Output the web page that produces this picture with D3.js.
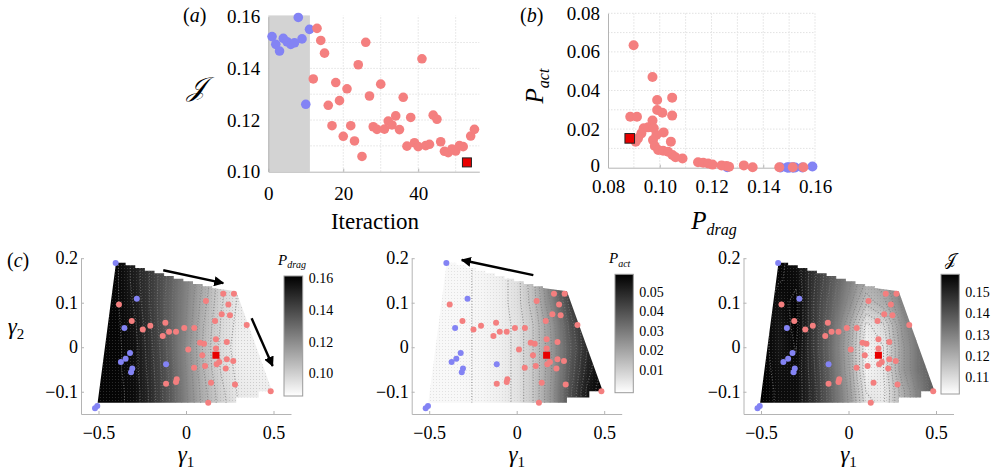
<!DOCTYPE html>
<html><head><meta charset="utf-8">
<script src="https://cdn.jsdelivr.net/npm/d3@7"></script>
<style>
body{margin:0;background:#fff;}
svg text{font-family:"Liberation Serif","Times New Roman","Liberation Sans",Arial,sans-serif;fill:#000;}
</style></head><body>
<svg id="c" width="1002" height="476" xmlns="http://www.w3.org/2000/svg"></svg>
<script>
// ---------------- DATA ----------------
// (a) objective J vs iteration
const iterBlue = [1,2,3,4,5,6,7,8,9,10,11];
const jBlue = [0.1523,0.1493,0.1467,0.1516,0.1503,0.1493,0.1499,0.1597,0.1514,0.1261,0.1551];
const iterRed = [12,13,14,15,16,17,18,19,20,21,22,23,24,25,26,27,28,29,30,31,32,33,34,35,36,37,38,39,40,41,42,43,44,45,46,47,48,49,50,51,52,54,55];
const jRed = [0.1359,0.1555,0.1508,0.1459,0.1257,0.1178,0.1345,0.1275,0.1137,0.1321,0.1178,0.1119,0.1414,0.1059,0.1501,0.1293,0.1174,0.1164,0.1339,0.1165,0.1196,0.1181,0.1216,0.1163,0.1288,0.1099,0.1210,0.1112,0.1097,0.1437,0.1101,0.1106,0.1219,0.1203,0.1116,0.1079,0.1074,0.1088,0.1080,0.1101,0.1097,0.1138,0.1164];
const bestIter = 53, bestJ = 0.1036;
// (b) P_act vs P_drag
const pdragRed = [0.0899,0.0886,0.0912,0.0972,0.0990,0.0990,0.1010,0.1048,0.1048,0.1043,0.0972,0.0955,0.0938,0.0929,0.0916,0.0907,0.0977,0.0987,0.1015,0.0974,0.0981,0.0994,0.1013,0.1032,0.1049,0.1061,0.1088,0.1148,0.1168,0.1187,0.1204,0.1239,0.1258,0.1268,0.1325,0.1359,0.1462,0.1514,0.1555];
const pactRed  = [0.0634,0.0264,0.0264,0.0470,0.0351,0.0299,0.0285,0.0363,0.0270,0.0135,0.0244,0.0209,0.0204,0.0178,0.0152,0.0135,0.0204,0.0169,0.0183,0.0143,0.0112,0.0092,0.0088,0.0083,0.0066,0.0054,0.0048,0.0028,0.0026,0.0022,0.0016,0.0012,0.0009,0.0005,0.0012,0.0002,0.0002,0.0002,0.0002];
const pdragBlue = [0.1523,0.1493,0.1467,0.1516,0.1503,0.1493,0.1499,0.1590,0.1514,0.1261,0.1551];
const pactBlue  = [0.0001,0.0001,0.0001,0.0001,0.0001,0.0001,0.0001,0.0006,0.0001,0.0002,0.0001];
const bestPdrag = 0.0884, bestPact = 0.0152;
// (c) sampled parameters
const g1Blue = [-0.402,-0.281,-0.352,-0.320,-0.345,-0.372,-0.307,-0.314,-0.114,-0.507,-0.520];
const g2Blue = [0.189,0.109,0.043,-0.013,-0.026,-0.033,-0.048,-0.056,-0.038,-0.132,-0.137];
const g1Red = [-0.383,-0.310,-0.247,-0.204,-0.118,-0.133,-0.097,-0.057,-0.010,0.047,0.013,0.080,0.103,0.046,0.109,0.093,0.171,0.171,0.233,0.114,0.213,0.274,0.242,0.204,0.251,0.166,0.347,0.190,0.233,0.270,0.227,0.175,-0.053,-0.057,-0.114,0.143,0.280,0.127,0.484];
const g2Red = [0.096,0.059,0.040,0.048,0.055,0.025,0.035,0.035,0.043,0.043,-0.005,0.010,0.008,-0.046,-0.042,-0.018,0.018,-0.003,0.012,0.104,0.120,0.120,0.096,0.074,0.072,0.059,0.050,-0.033,-0.027,-0.031,-0.048,-0.038,-0.072,-0.078,-0.082,-0.080,-0.084,-0.125,-0.099];
const bestG1 = 0.171, bestG2 = -0.018;
// model-surface grids (rows: gamma2 = 0.2 ... -0.15, cols: gamma1 = -0.5 ... 0.5)
const gridG1 = [-0.5,-0.4,-0.3,-0.2,-0.1,0,0.1,0.2,0.3,0.4,0.5];
const gridG2 = [0.2,0.15,0.1,0.05,0,-0.05,-0.1,-0.15];
const gridPdrag = [
 [.160,.160,.153,.144,.135,.125,.113,.101,.094,.092,.092],
 [.160,.160,.153,.144,.134,.123,.111,.099,.093,.091,.091],
 [.160,.160,.154,.144,.133,.122,.109,.098,.092,.090,.090],
 [.160,.160,.156,.145,.133,.121,.107,.097,.091,.090,.090],
 [.160,.160,.157,.146,.134,.120,.106,.096,.090,.090,.090],
 [.160,.160,.157,.147,.135,.121,.107,.097,.091,.090,.090],
 [.160,.160,.158,.148,.136,.122,.109,.099,.092,.091,.091],
 [.160,.160,.158,.148,.136,.123,.110,.100,.093,.092,.092]];
const gridPact = [
 [0,0,0,.0005,.002,.006,.015,.031,.046,.055,.059],
 [0,0,0,.0005,.002,.006,.015,.031,.046,.055,.059],
 [0,0,0,.0005,.002,.006,.014,.028,.043,.053,.058],
 [0,0,0,.0005,.002,.005,.012,.024,.039,.050,.057],
 [0,0,0,.0005,.002,.005,.012,.023,.037,.049,.057],
 [0,0,0,.0005,.002,.005,.012,.023,.038,.051,.059],
 [0,0,0,.0005,.002,.005,.012,.024,.040,.054,.060],
 [0,0,0,.0005,.002,.005,.012,.024,.040,.054,.060]];
const gridJ = [
 [.159,.158,.155,.148,.140,.132,.124,.125,.132,.137,.139],
 [.159,.157,.156,.147,.139,.130,.121,.123,.131,.137,.139],
 [.159,.155,.158,.146,.137,.127,.115,.120,.129,.136,.139],
 [.159,.154,.158,.146,.135,.122,.106,.110,.125,.134,.138],
 [.159,.154,.157,.146,.134,.121,.104,.107,.123,.133,.138],
 [.159,.155,.156,.147,.135,.122,.104,.107,.123,.133,.139],
 [.159,.156,.156,.148,.136,.124,.107,.106,.119,.130,.140],
 [.159,.156,.156,.148,.137,.125,.110,.107,.119,.130,.140]];
// sampled domain boundary (gamma1, gamma2)
const domainPoly = [[-0.505,-0.125],[-0.40,0.19],[-0.345,0.19],[-0.345,0.184],[-0.29,0.184],[-0.29,0.178],[-0.235,0.178],[-0.235,0.172],[-0.18,0.172],[-0.18,0.166],[-0.125,0.166],[-0.125,0.160],[-0.07,0.160],[-0.07,0.154],[-0.015,0.154],[-0.015,0.148],[0.04,0.148],[0.04,0.142],[0.095,0.142],[0.095,0.137],[0.15,0.137],[0.15,0.133],[0.287,0.126],[0.487,-0.093],[0.487,-0.099],[0.415,-0.099],[0.415,-0.113],[0.287,-0.113],[0.287,-0.125]];
// colorbar ranges and ticks
const cbDomains = [[0.0857,0.1615],[-0.0016,0.059],[0.1018,0.1586]];
const cbTicks = [[0.10,0.12,0.14,0.16],[0.01,0.02,0.03,0.04,0.05],[0.11,0.12,0.13,0.14,0.15]];
// arrows (gamma coords)
const arrowsLeft = [[[-0.13,0.173],[0.213,0.144]],[[0.375,0.065],[0.495,-0.042]]];
const arrowsMid = [[[0.095,0.162],[-0.314,0.196]]];

// ---------------- DRAW ----------------
const RED="#f47f7f", BLUE="#8383f4", SQ="#e80000";
const FONT='"Liberation Serif","Times New Roman","Liberation Sans",Arial,sans-serif';
const svg = d3.select("#c");
const defs = svg.append("defs");
defs.append("marker").attr("id","ah").attr("viewBox","0 0 10 10").attr("refX",9).attr("refY",5)
  .attr("markerWidth",4.2).attr("markerHeight",4.2).attr("orient","auto")
  .append("path").attr("d","M0,0L10,5L0,10z").attr("fill","#000");
const pat = defs.append("pattern").attr("id","dots").attr("patternUnits","userSpaceOnUse").attr("width",3).attr("height",3);
pat.append("rect").attr("x",1).attr("y",1).attr("width",1).attr("height",1).attr("fill","#808080");

function styleAxis(g, fs){
  g.attr("font-family",FONT).attr("font-size",fs);
  g.select(".domain").attr("stroke","#b4b4b4");
  g.selectAll(".tick line").attr("stroke","#b4b4b4");
  g.selectAll("text").attr("fill","#000");
}
function subLabel(g, x, y, main, sub, fs, sfs, opts={}){
  const t = g.append("text").attr("x",x).attr("y",y).attr("text-anchor",opts.anchor||"start");
  if(opts.rotate) t.attr("transform",`rotate(-90,${x},${y})`);
  t.append("tspan").attr("font-style","italic").attr("font-size",fs).text(main);
  t.append("tspan").attr("font-style",opts.subItalic===false?"normal":"italic").attr("font-size",sfs).attr("dy",fs*0.22).text(sub);
  return t;
}

// ===== (a) =====
const ax = d3.scaleLinear().domain([0,56.3]).range([268.3,479.3]);
const ay = d3.scaleLinear().domain([0.10,0.16]).range([171.7,16.7]);
const ga = svg.append("g");
const gridA = ga.append("g").attr("stroke","#e2e2e2").attr("stroke-dasharray","1.5,1.5");
d3.range(10,56,10).forEach(v=>gridA.append("line").attr("x1",ax(v)).attr("x2",ax(v)).attr("y1",ay(0.1)).attr("y2",ay(0.1605)));
d3.range(0.11,0.16,0.01).forEach(v=>gridA.append("line").attr("x1",ax(0)).attr("x2",ax(56.3)).attr("y1",ay(v)).attr("y2",ay(v)));
ga.append("rect").attr("x",ax(0)).attr("y",ay(0.1605)).attr("width",ax(11.1)-ax(0)).attr("height",ay(0.1)-ay(0.1605)).attr("fill","#d3d3d3");
styleAxis(ga.append("g").attr("transform",`translate(0,${ay(0.1)})`).call(d3.axisBottom(ax).tickValues([0,20,40]).tickSize(-3).tickPadding(15).tickSizeOuter(0)),19);
styleAxis(ga.append("g").attr("transform",`translate(${ax(0)},0)`).call(d3.axisLeft(ay).tickValues([0.10,0.12,0.14,0.16]).tickFormat(d3.format(".2f")).tickSize(0).tickPadding(8).tickSizeOuter(0)),19);
ga.selectAll("circle.b").data(iterBlue).join("circle").attr("cx",(d)=>ax(d)).attr("cy",(d,i)=>ay(jBlue[i])).attr("r",4.8).attr("fill",BLUE);
ga.selectAll("circle.r").data(iterRed).join("circle").attr("cx",(d)=>ax(d)).attr("cy",(d,i)=>ay(jRed[i])).attr("r",4.8).attr("fill",RED);
ga.append("rect").attr("x",ax(bestIter)-4.5).attr("y",ay(bestJ)-4.5).attr("width",9).attr("height",9).attr("fill",SQ).attr("stroke","#222").attr("stroke-width",1);
ga.append("text").attr("x",183).attr("y",22).attr("font-size",20).html('(<tspan font-style="italic">a</tspan>)');
ga.append("text").attr("x",196).attr("y",96).attr("font-size",27).attr("text-anchor","middle").attr("font-style","italic").text("𝒥");
ga.append("text").attr("x",375).attr("y",229).attr("font-size",23).attr("text-anchor","middle").text("Iteraction");

// ===== (b) =====
const bx = d3.scaleLinear().domain([0.08,0.16]).range([608,815]);
const by = d3.scaleLinear().domain([0,0.08]).range([167.7,13.3]);
const gb = svg.append("g");
const gridB = gb.append("g").attr("stroke","#e2e2e2").attr("stroke-dasharray","1.5,1.5");
d3.range(0.09,0.16,0.01).forEach(v=>gridB.append("line").attr("x1",bx(v)).attr("x2",bx(v)).attr("y1",by(0)).attr("y2",by(0.08)));
d3.range(0.01,0.081,0.01).forEach(v=>gridB.append("line").attr("x1",bx(0.08)).attr("x2",bx(0.16)).attr("y1",by(v)).attr("y2",by(v)));
styleAxis(gb.append("g").attr("transform",`translate(0,${by(0)})`).call(d3.axisBottom(bx).tickValues([0.08,0.10,0.12,0.14,0.16]).tickFormat(d3.format(".2f")).tickSize(-3).tickPadding(12).tickSizeOuter(0)),19);
const bya = gb.append("g").attr("transform",`translate(${bx(0.08)},0)`).call(d3.axisLeft(by).tickValues([0,0.02,0.04,0.06,0.08]).tickFormat(d=>d===0?"0":d3.format(".2f")(d)).tickSize(0).tickPadding(8).tickSizeOuter(0));
styleAxis(bya,19);
bya.selectAll(".tick text").filter(d=>d===0).attr("dy","0.2em");
gb.selectAll("circle.b").data(pdragBlue).join("circle").attr("cx",d=>bx(d)).attr("cy",(d,i)=>by(pactBlue[i])).attr("r",5).attr("fill",BLUE);
gb.selectAll("circle.r").data(pdragRed).join("circle").attr("cx",d=>bx(d)).attr("cy",(d,i)=>by(pactRed[i])).attr("r",5).attr("fill",RED);
gb.append("rect").attr("x",bx(bestPdrag)-4.8).attr("y",by(bestPact)-4.8).attr("width",9.6).attr("height",9.6).attr("fill",SQ).attr("stroke","#222").attr("stroke-width",1);
gb.append("text").attr("x",520).attr("y",22).attr("font-size",20).html('(<tspan font-style="italic">b</tspan>)');
subLabel(gb, 543, 86, "P","act",25,16,{anchor:"middle",rotate:true});
subLabel(gb, 714, 229, "P","drag",25,16,{anchor:"middle"});

// ===== (c) =====
const x0s = [186, 516.7, 848.5];
const grids = [gridPdrag, gridPact, gridJ];
const titles = [["P","drag"],["P","act"],["𝒥",""]];
const cbBox = [[284,276,18.7,120],[615,274.3,18.3,118.4],[941,274.3,18.3,119.7]];
const cbFmt = [d3.format(".2f"), d3.format(".2f"), d3.format(".2f")];

x0s.forEach((x0,k)=>{
  const g = svg.append("g");
  const cx = d3.scaleLinear().domain([-0.6,0.6]).range([x0-105,x0+105]);
  const cy = d3.scaleLinear().domain([-0.15,0.2]).range([414,258.2]);
  const col = d3.scaleLinear().domain(cbDomains[k]).range(["#ffffff","#000000"]).clamp(true);
  // heat image from the grid
  const cv = document.createElement("canvas"); cv.width=gridG1.length; cv.height=gridG2.length;
  const ctx = cv.getContext("2d"); const img = ctx.createImageData(cv.width,cv.height);
  grids[k].forEach((row,j)=>row.forEach((v,i)=>{const c=d3.rgb(col(v)); const p=(j*cv.width+i)*4; img.data[p]=c.r;img.data[p+1]=c.g;img.data[p+2]=c.b;img.data[p+3]=255;}));
  ctx.putImageData(img,0,0);
  const cid = "clip"+k;
  defs.append("clipPath").attr("id",cid).append("path").attr("d",d3.line().x(d=>cx(d[0])).y(d=>cy(d[1]))(domainPoly)+"Z");
  const dx = gridG1[1]-gridG1[0], dy = gridG2[0]-gridG2[1];
  g.append("image").attr("href",cv.toDataURL()).attr("preserveAspectRatio","none")
    .attr("x",cx(gridG1[0]-dx/2)).attr("y",cy(gridG2[0]+dy/2))
    .attr("width",cx(gridG1[gridG1.length-1]+dx/2)-cx(gridG1[0]-dx/2))
    .attr("height",cy(gridG2[gridG2.length-1]-dy/2)-cy(gridG2[0]+dy/2))
    .attr("clip-path",`url(#${cid})`);
  // dotted sampling texture
  g.append("path").attr("d",d3.line().x(d=>cx(d[0])).y(d=>cy(d[1]))(domainPoly)+"Z").attr("fill","url(#dots)").attr("opacity",k===1?0.18:0.3);
  // dotted contour lines
  const flat = grids[k].flat();
  const ext = cbDomains[k];
  const th = d3.range(ext[0]+(ext[1]-ext[0])*0.03, ext[1], (ext[1]-ext[0])/16);
  const conts = d3.contours().size([gridG1.length,gridG2.length]).thresholds(th)(flat);
  const gx = v=>cx(gridG1[0]-dx/2 + v*dx), gy = v=>cy(gridG2[0]+dy/2 - v*dy);
  g.append("g").attr("clip-path",`url(#${cid})`).selectAll("path").data(conts).join("path")
    .attr("d",d3.geoPath(d3.geoTransform({point(x,y){this.stream.point(gx(x),gy(y));}})))
    .attr("fill","none").attr("stroke","#7a7a7a").attr("stroke-width",1.1).attr("stroke-dasharray","1,1.8").attr("opacity",0.8);
  // axes
  const xa = g.append("g").attr("transform",`translate(0,${cy(-0.15)})`).call(d3.axisBottom(cx).tickValues([-0.5,0,0.5]).tickFormat(d=>d===0?"0":(d<0?"\u2212":"")+Math.abs(d)).tickSize(-3).tickPadding(12).tickSizeOuter(0));
  styleAxis(xa,18);
  const ya = g.append("g").attr("transform",`translate(${cx(-0.6)},0)`).call(d3.axisLeft(cy).tickValues([-0.1,0,0.1,0.2]).tickFormat(d=>d===0?"0":(d<0?"\u2212":"")+Math.abs(d)).tickSize(-3).tickPadding(3).tickSizeOuter(0));
  styleAxis(ya,18);
  ya.selectAll(".tick text").attr("x",-3);
  // points
  g.selectAll("circle.b").data(g1Blue).join("circle").attr("cx",d=>cx(d)).attr("cy",(d,i)=>cy(g2Blue[i])).attr("r",3).attr("fill",BLUE);
  g.selectAll("circle.r").data(g1Red).join("circle").attr("cx",d=>cx(d)).attr("cy",(d,i)=>cy(g2Red[i])).attr("r",3).attr("fill",RED);
  g.append("rect").attr("x",cx(bestG1)-3.5).attr("y",cy(bestG2)-3.5).attr("width",7).attr("height",7).attr("fill",SQ);
  // arrows
  const arr = k===0?arrowsLeft:(k===1?arrowsMid:[]);
  arr.forEach(a=>g.append("line").attr("x1",cx(a[0][0])).attr("y1",cy(a[0][1])).attr("x2",cx(a[1][0])).attr("y2",cy(a[1][1]))
     .attr("stroke","#000").attr("stroke-width",2.4).attr("marker-end","url(#ah)"));
  // x label
  subLabel(g, x0, 462, "\u03b3","1",23,15,{anchor:"middle",subItalic:false});
  if(k===0) subLabel(g, 16, 334, "\u03b3","2",23,15,{anchor:"middle",subItalic:false});
  // colorbar
  const [bx0,by0,bw,bh] = cbBox[k];
  const gid="grad"+k;
  const lg = defs.append("linearGradient").attr("id",gid).attr("x1",0).attr("y1",1).attr("x2",0).attr("y2",0);
  lg.append("stop").attr("offset",0).attr("stop-color",col(cbDomains[k][0]));
  lg.append("stop").attr("offset",1).attr("stop-color",col(cbDomains[k][1]));
  g.append("rect").attr("x",bx0).attr("y",by0).attr("width",bw).attr("height",bh).attr("fill",`url(#${gid})`).attr("stroke","#9a9a9a").attr("stroke-width",1);
  const cs = d3.scaleLinear().domain(cbDomains[k]).range([by0+bh,by0]);
  const ca = g.append("g").attr("transform",`translate(${bx0+bw},0)`).call(d3.axisRight(cs).tickValues(cbTicks[k]).tickFormat(cbFmt[k]).tickSize(0).tickPadding(6).tickSizeOuter(0));
  styleAxis(ca,14); ca.select(".domain").remove();
  // colorbar title
  if(k<2) subLabel(g, bx0-6, by0-11, titles[k][0], titles[k][1], 15, 10);
  else g.append("text").attr("x",bx0+9).attr("y",by0-9).attr("font-size",16).attr("text-anchor","middle").text("𝒥");
  if(k===0) g.append("text").attr("x",7).attr("y",267).attr("font-size",20).html('(<tspan font-style="italic">c</tspan>)');
});
</script>
</body></html>
